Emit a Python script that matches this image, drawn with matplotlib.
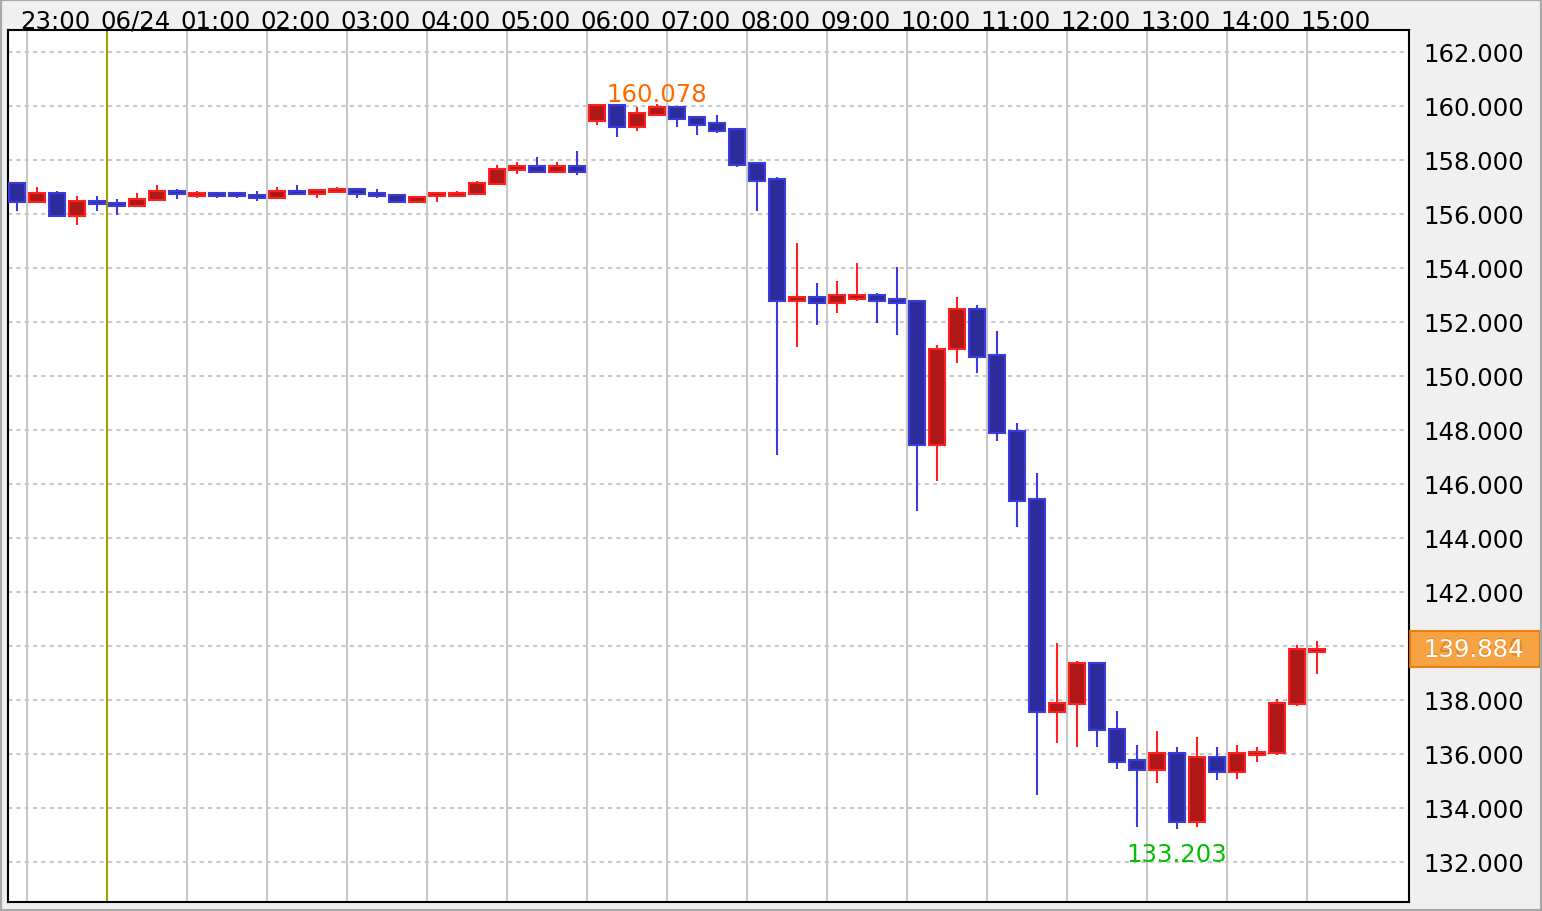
import numpy as np
import matplotlib
matplotlib.use("Agg")
import matplotlib.pyplot as plt
from matplotlib.patches import Rectangle
from matplotlib.transforms import blended_transform_factory, ScaledTranslation

# 15-minute candles, 22:45 .. 15:00
open_ = [157.13, 156.43, 156.76, 155.91, 156.46, 156.39, 156.28, 156.50, 156.83, 156.65,
         156.76, 156.76, 156.69, 156.57, 156.83, 156.72, 156.80, 156.91, 156.76, 156.69,
         156.43, 156.65, 156.65, 156.72, 157.09, 157.61, 157.76, 157.54, 157.76, 159.42,
         160.02, 159.20, 159.65, 159.94, 159.57, 159.35, 159.13, 157.87, 157.28, 152.76,
         152.91, 152.69, 152.84, 152.99, 152.84, 152.76, 147.44, 150.99, 152.47, 150.77,
         147.95, 145.44, 137.56, 137.85, 139.37, 136.93, 135.75, 135.41, 136.04, 133.49,
         135.89, 135.34, 135.97, 136.04, 137.85, 139.78]
high = [157.13, 156.98, 156.83, 156.65, 156.65, 156.54, 156.76, 157.06, 156.91, 156.83,
        156.80, 156.80, 156.83, 156.98, 157.06, 156.87, 156.98, 156.91, 156.91, 156.69,
        156.65, 156.76, 156.83, 157.20, 157.80, 157.91, 158.09, 157.91, 158.31, 160.02,
        160.04, 159.94, 160.078, 159.94, 159.57, 159.65, 159.13, 157.87, 157.35, 154.91,
        153.43, 153.50, 154.17, 153.06, 154.02, 152.76, 151.14, 152.91, 152.62, 151.65,
        148.25, 146.40, 140.11, 139.45, 139.37, 137.60, 136.34, 136.86, 136.26, 136.63,
        136.26, 136.34, 136.26, 138.04, 140.04, 140.19]
low = [156.10, 156.43, 155.91, 155.58, 156.09, 155.95, 156.28, 156.50, 156.54, 156.57,
       156.57, 156.57, 156.46, 156.57, 156.72, 156.57, 156.80, 156.57, 156.57, 156.43,
       156.43, 156.43, 156.61, 156.72, 157.09, 157.46, 157.50, 157.54, 157.43, 159.28,
       158.83, 159.05, 159.65, 159.20, 158.91, 158.98, 157.72, 156.09, 147.07, 151.06,
       151.88, 152.32, 152.76, 151.95, 151.51, 145.00, 146.10, 150.47, 150.10, 147.58,
       144.40, 134.49, 136.41, 136.26, 136.26, 135.45, 133.30, 134.93, 133.203, 133.30,
       135.01, 135.08, 135.71, 135.97, 137.78, 138.97]
close = [156.43, 156.76, 155.91, 156.46, 156.35, 156.28, 156.54, 156.83, 156.72, 156.76,
         156.65, 156.65, 156.57, 156.83, 156.72, 156.87, 156.91, 156.72, 156.65, 156.43,
         156.61, 156.76, 156.76, 157.13, 157.65, 157.76, 157.54, 157.76, 157.54, 160.02,
         159.20, 159.72, 159.94, 159.50, 159.28, 159.05, 157.80, 157.20, 152.76, 152.91,
         152.69, 152.99, 152.99, 152.76, 152.69, 147.44, 150.99, 152.47, 150.69, 147.88,
         145.36, 137.56, 137.89, 139.37, 136.89, 135.71, 135.41, 136.04, 133.49, 135.89,
         135.34, 136.04, 136.08, 137.89, 139.89, 139.884]

hour_labels = ["23:00", "06/24", "01:00", "02:00", "03:00", "04:00", "05:00", "06:00",
               "07:00", "08:00", "09:00", "10:00", "11:00", "12:00", "13:00", "14:00", "15:00"]
y_ticks = list(range(132, 163, 2))

UP_EDGE, UP_FILL = "#ff2020", "#b01818"
DN_EDGE, DN_FILL = "#3c3cdc", "#2c2c9c"

fig = plt.figure(figsize=(15.42, 9.12), dpi=100, facecolor="#f0f0f0")
ax = fig.add_axes([8 / 1542, 1 - 903 / 912, 1401 / 1542, 872 / 912])
ax.set_facecolor("white")

x = np.arange(len(close))
o = np.array(open_)
c = np.array(close)
up = c >= o
edge = np.where(up, UP_EDGE, DN_EDGE)
fill = np.where(up, UP_FILL, DN_FILL)

ax.vlines(x, low, high, colors=edge, linewidth=1.5, zorder=3)
body = np.maximum(np.abs(c - o), 0.04)
ax.bar(x, body, bottom=np.minimum(o, c), width=0.8, color=fill,
       edgecolor=edge, linewidth=1.5, zorder=4)

# hour grid (line sits on the left edge of the first candle of the hour)
hour_pos = [0.5 + 4 * k for k in range(len(hour_labels))]
lab_tr = blended_transform_factory(ax.transData, ax.transAxes) + \
    ScaledTranslation(-7 / 100, -2.5 / 100, fig.dpi_scale_trans)
for pos, lab in zip(hour_pos, hour_labels):
    col = "#a0a000" if lab == "06/24" else "#c8c8c8"
    ax.axvline(pos, color=col, linewidth=1.5, zorder=1 if col == "#c8c8c8" else 2)
    ax.text(pos, 1.0, lab, transform=lab_tr, ha="left", va="bottom",
            fontsize=17.6, color="black", clip_on=False)

ax.set_xlim(-0.45, 69.6)
ax.set_ylim(130.51, 162.8)
ax.set_xticks([])
ax.set_yticks(y_ticks)
ax.set_yticklabels([f"{v:.3f}" for v in y_ticks])
ax.yaxis.tick_right()
ax.tick_params(axis="y", length=0, pad=10, labelsize=17.6, colors="black")
ax.grid(axis="y", color="#c8c8c8", linestyle=(0, (2, 2)), linewidth=1.5, zorder=0)
ax.set_axisbelow(True)
for s in ax.spines.values():
    s.set_color("black")
    s.set_linewidth(1.5)

# high / low markers
i_hi = int(np.argmax(high))
i_lo = int(np.argmin(low))
ax.annotate(f"{high[i_hi]:.3f}", (i_hi, high[i_hi]), xytext=(0, -2),
            textcoords="offset points", ha="center", va="bottom",
            fontsize=17.6, color="#ff6a00", zorder=6)
ax.annotate(f"{low[i_lo]:.3f}", (i_lo, low[i_lo]), xytext=(0, -9),
            textcoords="offset points", ha="center", va="top",
            fontsize=17.6, color="#00c000", zorder=6)

# last price tag on the price scale
last = close[-1]
trb = blended_transform_factory(ax.transAxes, ax.transData)
ax.add_patch(Rectangle((1.0007, last - 0.66), 0.093, 1.32, transform=trb,
                       facecolor="#f89a30", edgecolor="#e87800", linewidth=1.5,
                       alpha=0.9, clip_on=False, zorder=10))
ax.text(1.0 + 14 / 1401, last, f"{last:.3f}", transform=trb, ha="left", va="center",
        fontsize=17.6, color="white", clip_on=False, zorder=11)

fig.patches.append(Rectangle((0, 0), 1, 1, transform=fig.transFigure, fill=False,
                             edgecolor="#a8a8a8", linewidth=3))

fig.savefig("out.png", dpi=100, facecolor=fig.get_facecolor())
